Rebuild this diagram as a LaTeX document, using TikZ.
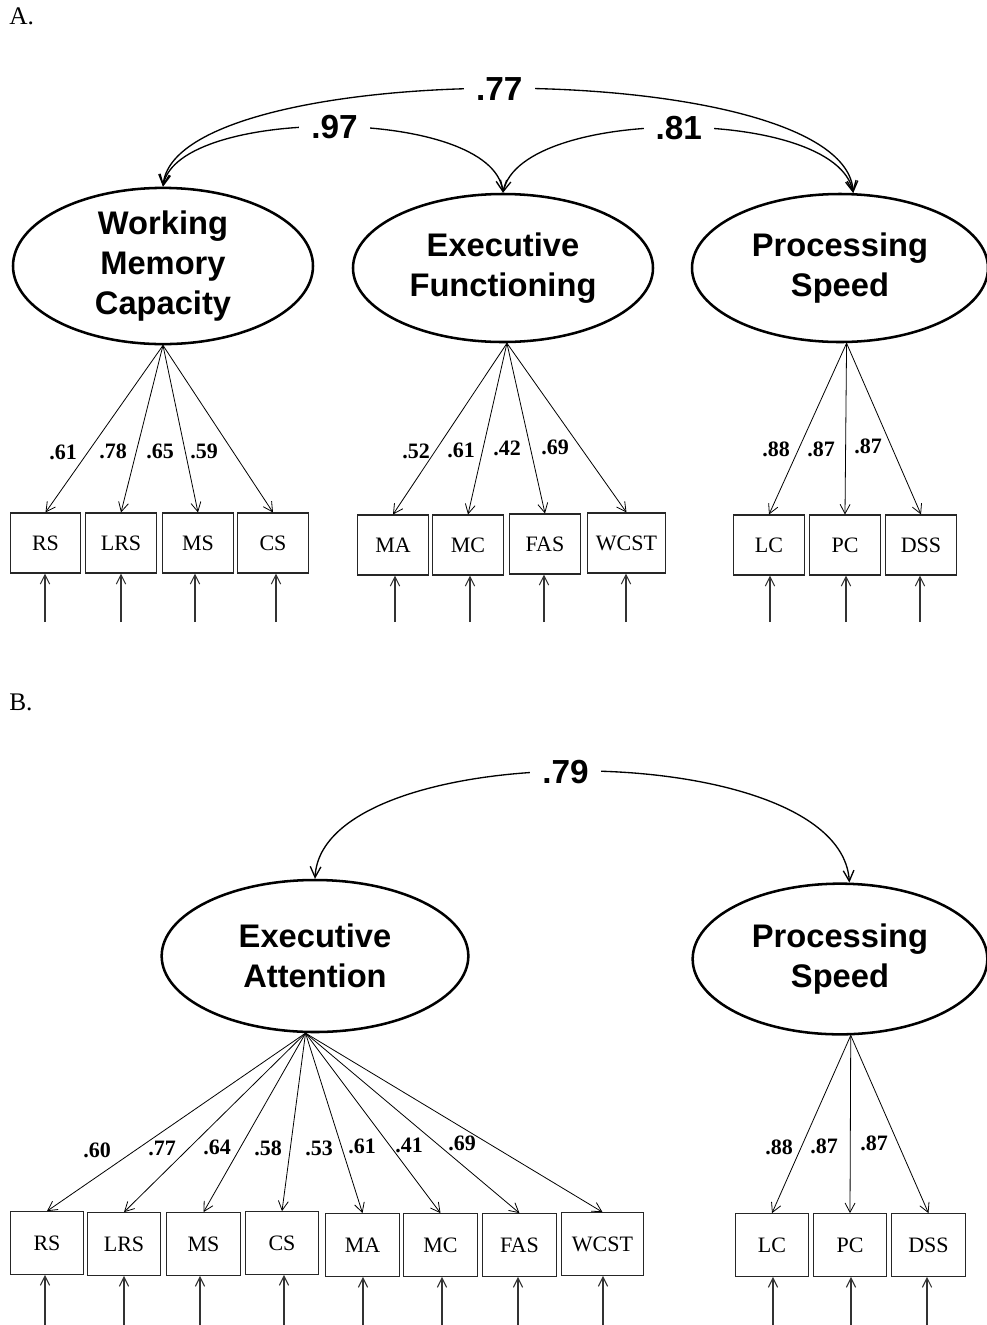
\documentclass[tikz,border=0pt]{standalone}
\usepackage{fontspec}
\setmainfont{Liberation Serif}
\newfontfamily\latfont{Liberation Sans}
\usetikzlibrary{shapes.geometric,arrows.meta}

\tikzset{
  latent/.style={draw, ellipse, line width=1.9pt, inner sep=0pt, align=center,
    font=\latfont\bfseries\fontsize{24.5}{30}\selectfont},
  obs/.style={draw=black!85, rectangle, line width=0.8pt, inner sep=3pt,
    minimum width=53pt, minimum height=45pt, font=\fontsize{16.5}{18}\selectfont},
  obsb/.style={obs, minimum width=55pt, minimum height=47pt},
  load/.style={line width=0.6pt, -{Straight Barb[length=7pt,width=7.5pt]}},
  err/.style={line width=0.8pt, draw=black!80, -{Straight Barb[length=7pt,width=7pt]}},
  corr/.style={line width=1pt, {Straight Barb[length=8pt,width=8pt]}-{Straight Barb[length=8pt,width=8pt]}},
  clab/.style={fill=white, inner xsep=9pt, inner ysep=1pt,
    font=\latfont\bfseries\fontsize{25}{28}\selectfont},
  wt/.style={inner sep=1pt, font=\bfseries\fontsize{16.5}{18}\selectfont},
  part/.style={inner sep=0pt, anchor=base west, font=\fontsize{19}{20}\selectfont},
}

\begin{document}
\begin{tikzpicture}[x=0.75pt, y=-0.75pt]
      \useasboundingbox (0,0) rectangle (987,1325);

      % ---- A ----
      \node[part] (lblA) at (9,24) {A.};

      \node[latent, minimum width=225pt, minimum height=111pt] (wmc) at (163,266) {Working\\Memory\\Capacity};
      \node[latent, minimum width=225pt, minimum height=111pt] (ef) at (503,268) {Executive\\Functioning};
      \node[latent, minimum width=222pt, minimum height=111pt] (psA) at (840,268) {Processing\\Speed};

      \draw[corr] (wmc.north) .. controls (175,55) and (845,55) .. node[clab, pos=0.49] (c77) {.77} (psA.80);
      \draw[corr] (wmc.north) .. controls (178,106) and (492,106) .. node[clab] (c97) {.97} (ef.north);
      \draw[corr] (ef.north) .. controls (522,106) and (836,106) .. node[clab] (c81) {.81} (psA.80);

      \node[obs] (rsA) at (45.5,543) {RS};
      \node[obs] (lrsA) at (121,543) {LRS};
      \node[obs] (msA) at (198,543) {MS};
      \node[obs] (csA) at (273,543) {CS};
      \node[obs] (maA) at (393,545) {MA};
      \node[obs] (mcA) at (468,545) {MC};
      \node[obs] (fasA) at (545,544) {FAS};
      \node[obs, minimum width=59pt] (wcstA) at (626.5,543) {WCST};
      \node[obs] (lcA) at (769,545) {LC};
      \node[obs] (pcA) at (845,545) {PC};
      \node[obs] (dssA) at (921,545) {DSS};

      \draw[load] (wmc.south) -- (rsA.north);
      \draw[load] (wmc.south) -- (lrsA.north);
      \draw[load] (wmc.south) -- (msA.north);
      \draw[load] (wmc.south) -- (csA.north);
      \draw[load] (ef.-87) -- (maA.north);
      \draw[load] (ef.-87) -- (mcA.north);
      \draw[load] (ef.-87) -- (fasA.north);
      \draw[load] (ef.-87) -- (wcstA.north);
      \draw[load] (psA.-85) -- (lcA.north);
      \draw[load] (psA.-85) -- (pcA.north);
      \draw[load] (psA.-85) -- (dssA.north);

      \node[wt] (wA1) at (63,452) {.61};
      \node[wt] (wA2) at (113,451) {.78};
      \node[wt] (wA3) at (160,451) {.65};
      \node[wt] (wA4) at (204,451) {.59};
      \node[wt] (wA5) at (416,451) {.52};
      \node[wt] (wA6) at (461,450) {.61};
      \node[wt] (wA7) at (507,448) {.42};
      \node[wt] (wA8) at (555,447) {.69};
      \node[wt] (wA9) at (776,449) {.88};
      \node[wt] (wA10) at (821,449) {.87};
      \node[wt] (wA11) at (868,446) {.87};

      \coordinate (eRSA) at (45,622);
      \coordinate (eLRSA) at (121,622);
      \coordinate (eMSA) at (195,622);
      \coordinate (eCSA) at (276,622);
      \coordinate (eMAA) at (395,622);
      \coordinate (eMCA) at (470,622);
      \coordinate (eFASA) at (544,622);
      \coordinate (eWCSTA) at (626,622);
      \coordinate (eLCA) at (770,622);
      \coordinate (ePCA) at (846,622);
      \coordinate (eDSSA) at (920,622);
      \draw[err] (eRSA) -- (eRSA |- rsA.south);
      \draw[err] (eLRSA) -- (eLRSA |- lrsA.south);
      \draw[err] (eMSA) -- (eMSA |- msA.south);
      \draw[err] (eCSA) -- (eCSA |- csA.south);
      \draw[err] (eMAA) -- (eMAA |- maA.south);
      \draw[err] (eMCA) -- (eMCA |- mcA.south);
      \draw[err] (eFASA) -- (eFASA |- fasA.south);
      \draw[err] (eWCSTA) -- (eWCSTA |- wcstA.south);
      \draw[err] (eLCA) -- (eLCA |- lcA.south);
      \draw[err] (ePCA) -- (ePCA |- pcA.south);
      \draw[err] (eDSSA) -- (eDSSA |- dssA.south);

      % ---- B ----
      \node[part] (lblB) at (9,710) {B.};

      \node[latent, minimum width=230pt, minimum height=114pt] (ea) at (315,956) {Executive\\Attention};
      \node[latent, minimum width=221pt, minimum height=113pt] (psB) at (840,959) {Processing\\Speed};

      \draw[corr] (ea.north) .. controls (322,735) and (840,735) .. node[clab, pos=0.48] (c79) {.79} (psB.83);

      \node[obsb] (rsB) at (47,1243) {RS};
      \node[obsb] (lrsB) at (124,1244) {LRS};
      \node[obsb] (msB) at (203.5,1244) {MS};
      \node[obsb] (csB) at (282,1243) {CS};
      \node[obsb] (maB) at (362.5,1245) {MA};
      \node[obsb] (mcB) at (440.5,1245) {MC};
      \node[obsb] (fasB) at (519.5,1245) {FAS};
      \node[obsb, minimum width=61pt] (wcstB) at (602.5,1244) {WCST};
      \node[obsb] (lcB) at (772,1245) {LC};
      \node[obsb] (pcB) at (850,1245) {PC};
      \node[obsb] (dssB) at (928.5,1245) {DSS};

      \draw[load] (ea.-97) -- (rsB.north);
      \draw[load] (ea.-97) -- (lrsB.north);
      \draw[load] (ea.-97) -- (msB.north);
      \draw[load] (ea.-97) -- (csB.north);
      \draw[load] (ea.-97) -- (maB.north);
      \draw[load] (ea.-97) -- (mcB.north);
      \draw[load] (ea.-97) -- (fasB.north);
      \draw[load] (ea.-97) -- (wcstB.north);
      \draw[load] (psB.-82) -- (lcB.north);
      \draw[load] (psB.-82) -- (pcB.north);
      \draw[load] (psB.-82) -- (dssB.north);

      \node[wt] (wB1) at (97,1150) {.60};
      \node[wt] (wB2) at (162,1148) {.77};
      \node[wt] (wB3) at (217,1147) {.64};
      \node[wt] (wB4) at (268,1148) {.58};
      \node[wt] (wB5) at (319,1148) {.53};
      \node[wt] (wB6) at (362,1146) {.61};
      \node[wt] (wB7) at (409,1145) {.41};
      \node[wt] (wB8) at (462,1143) {.69};
      \node[wt] (wB9) at (779,1147) {.88};
      \node[wt] (wB10) at (824,1146) {.87};
      \node[wt] (wB11) at (874,1143) {.87};

      \coordinate (eRSB) at (45,1325);
      \coordinate (eLRSB) at (124,1325);
      \coordinate (eMSB) at (200,1325);
      \coordinate (eCSB) at (284,1325);
      \coordinate (eMAB) at (363,1325);
      \coordinate (eMCB) at (442,1325);
      \coordinate (eFASB) at (518,1325);
      \coordinate (eWCSTB) at (603,1325);
      \coordinate (eLCB) at (773,1325);
      \coordinate (ePCB) at (851,1325);
      \coordinate (eDSSB) at (927,1325);
      \draw[err] (eRSB) -- (eRSB |- rsB.south);
      \draw[err] (eLRSB) -- (eLRSB |- lrsB.south);
      \draw[err] (eMSB) -- (eMSB |- msB.south);
      \draw[err] (eCSB) -- (eCSB |- csB.south);
      \draw[err] (eMAB) -- (eMAB |- maB.south);
      \draw[err] (eMCB) -- (eMCB |- mcB.south);
      \draw[err] (eFASB) -- (eFASB |- fasB.south);
      \draw[err] (eWCSTB) -- (eWCSTB |- wcstB.south);
      \draw[err] (eLCB) -- (eLCB |- lcB.south);
      \draw[err] (ePCB) -- (ePCB |- pcB.south);
      \draw[err] (eDSSB) -- (eDSSB |- dssB.south);
\end{tikzpicture}
\end{document}
